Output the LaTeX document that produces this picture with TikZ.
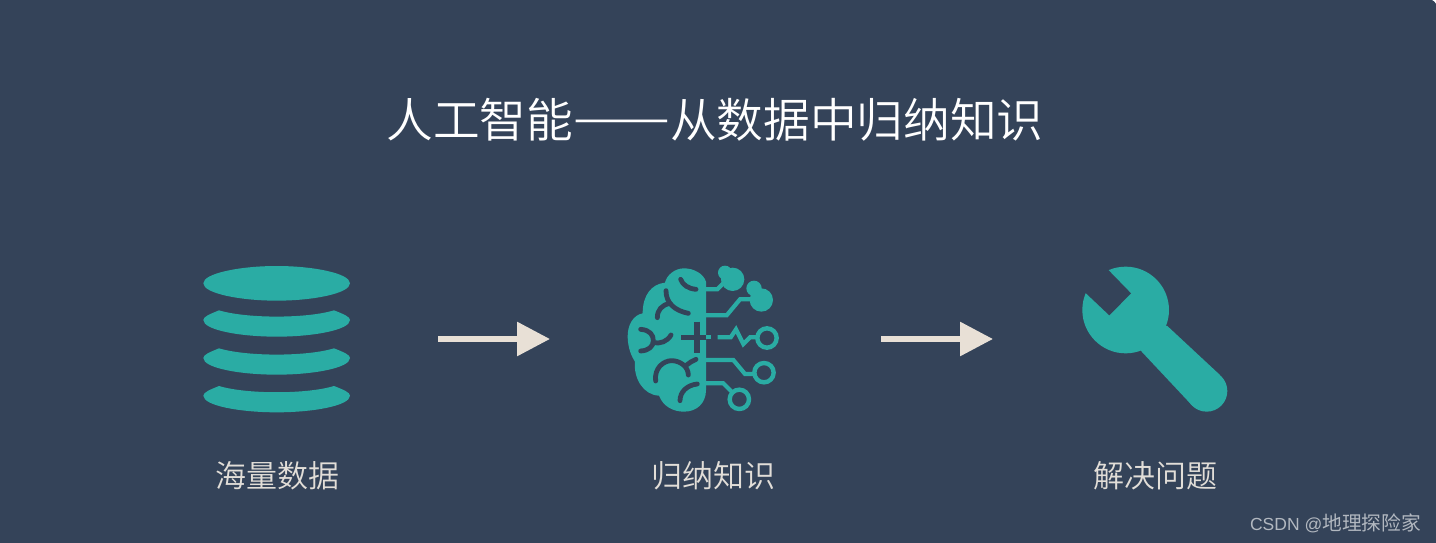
\documentclass[tikz,border=0pt]{standalone}
\usepackage{fontspec}
\usepackage{graphicx}
\usetikzlibrary{arrows.meta}
\newfontfamily\cjk{Noto Sans CJK SC DemiLight}
\newfontfamily\cjkreg{Noto Sans CJK SC}
\newfontfamily\latinwm{Liberation Sans}
\definecolor{bgc}{RGB}{52,67,89}
\definecolor{teal1}{RGB}{42,172,164}
\definecolor{arrowc}{RGB}{232,224,214}
\definecolor{labelc}{RGB}{226,222,216}
\definecolor{markc}{RGB}{178,184,192}
\tikzset{
  titletext/.style={text=white,font=\cjk\fontsize{46.7}{50}\selectfont,inner sep=0pt,anchor=center},
  labeltext/.style={text=labelc,font=\cjk\fontsize{31}{34}\selectfont,inner sep=0pt,anchor=center},
  flow/.style={draw=arrowc,line width=6pt,-{Triangle[length=33pt,width=33pt,fill=arrowc]}},
  tealfill/.style={fill=teal1,draw=none},
  fold/.style={draw=bgc,line width=4.8pt,line cap=round,line join=round},
  wire/.style={draw=teal1,line width=4.2pt,line join=miter},
  ring/.style={draw=teal1,line width=4.4pt,fill=none},
}
\begin{document}
\begin{tikzpicture}[x=1pt,y=-1pt]
\useasboundingbox (0,0) rectangle (1436,543);
\fill[white] (0,0) rectangle (1436,543);
\fill[bgc] (0,0) -- (1432,0) .. controls (1434,1) and (1435,2) .. (1436,4) -- (1436,543) -- (0,543) -- cycle;
\node[titletext] (title) at (715,120) {人工智能\raisebox{3pt}{\scalebox{1.24}[1]{——}}从数据中归纳知识};
% database
\begin{scope}[shift={(190pt,-250pt)},x=0.33333pt,y=-0.33333pt]
  \fill[tealfill] (40,100) .. controls (40,70) and (150,48) .. (260,48) .. controls (370,48) and (480,70) .. (480,100) .. controls (480,130) and (370,152) .. (260,152) .. controls (150,152) and (40,130) .. (40,100) -- cycle;
  \foreach \dy in {0,114,227}{
    \fill[tealfill] (87,181+\dy) .. controls (170,206+\dy) and (350,206+\dy) .. (432,181+\dy)
      .. controls (460,192+\dy) and (480,200+\dy) .. (480,210+\dy)
      .. controls (480,240+\dy) and (370,260+\dy) .. (260,260+\dy)
      .. controls (150,260+\dy) and (40,240+\dy) .. (40,210+\dy)
      .. controls (40,200+\dy) and (60,192+\dy) .. (87,181+\dy) -- cycle;
  }
\end{scope}
% brain
\begin{scope}[shift={(610pt,-250pt)},x=0.33333pt,y=-0.33333pt]
  \fill[tealfill] (288,95) .. controls (280,70) and (250,55) .. (222,55)
    .. controls (195,55) and (170,75) .. (165,98)
    .. controls (125,102) and (98,135) .. (98,190)
    .. controls (70,195) and (52,225) .. (53,262)
    .. controls (54,295) and (65,320) .. (75,335)
    .. controls (70,385) and (100,435) .. (147,437)
    .. controls (160,470) and (190,485) .. (222,485)
    .. controls (260,485) and (288,460) .. (288,420) -- cycle;
  \draw[fold] (212,88) .. controls (218,105) and (235,116) .. (258,118);
  \draw[fold] (168,122) .. controls (168,160) and (195,182) .. (235,190);
  \draw[fold] (180,160) .. controls (155,165) and (142,180) .. (142,203);
  \draw[fold] (92,238) .. controls (120,240) and (130,255) .. (130,272) .. controls (130,290) and (115,302) .. (92,303);
  \draw[fold] (130,278) .. controls (150,282) and (172,275) .. (183,255);
  \draw[fold] (137,393) .. controls (132,355) and (160,332) .. (185,332) .. controls (210,332) and (235,350) .. (235,375);
  \draw[fold] (230,345) .. controls (238,338) and (248,332) .. (258,328);
  \draw[fold] (210,452) .. controls (210,425) and (232,405) .. (262,402);
  \draw[draw=bgc,line width=6pt] (260,215) -- (260,308);
  \draw[draw=bgc,line width=4.8pt] (213,262) -- (288,262);
  \draw[wire] (288,262) -- (303,262);
  % circuit
  \draw[wire] (288,118) -- (322,118) -- (347,93);
  \fill[tealfill] (345,68) circle[radius=21];
  \fill[tealfill] (368,88) circle[radius=35];
  \draw[wire] (288,196) -- (350,196) -- (390,148) -- (430,148);
  \fill[tealfill] (432,115) circle[radius=23];
  \fill[tealfill] (454,150) circle[radius=35];
  \draw[wire] (323,262) -- (362,262) -- (378,238) -- (400,282) -- (420,262) -- (445,262);
  \draw[ring] (471,264) circle[radius=29];
  \draw[wire] (288,330) -- (370,330) -- (405,372) -- (432,372);
  \draw[ring] (462,368) circle[radius=29];
  \draw[wire] (288,400) -- (340,400) -- (366,426);
  \draw[ring] (388,448) circle[radius=29];
\end{scope}
% wrench
\begin{scope}[shift={(1070pt,-255pt)},x=0.33333pt,y=-0.33333pt]
  \fill[tealfill] (167,165) circle[radius=130];
  \fill[tealfill] (292,213) -- (450,360) -- (365,450) -- (215,290) -- (170,200) -- cycle;
  \fill[tealfill] (410,408) circle[radius=62];
  \fill[bgc] (80,9) -- (115,45) -- (183,115) -- (118,181) -- (45,112) -- (10,77) -- (30,20) -- cycle;
\end{scope}
% flow
\coordinate (a1) at (438,339);
\coordinate (b1) at (550,339);
\coordinate (a2) at (881,339);
\coordinate (b2) at (993,339);
\draw[flow] (a1) -- (b1);
\draw[flow] (a2) -- (b2);
\node[labeltext] (l1) at (277,476) {海量数据};
\node[labeltext] (l2) at (713,476) {归纳知识};
\node[labeltext] (l3) at (1155,476) {解决问题};
\node[text=markc,inner sep=0pt,anchor=east] (wm) at (1421,523) {\latinwm\fontsize{17.5}{22}\selectfont CSDN @\cjkreg\fontsize{19.7}{22}\selectfont 地理探险家};
\end{tikzpicture}
\end{document}
